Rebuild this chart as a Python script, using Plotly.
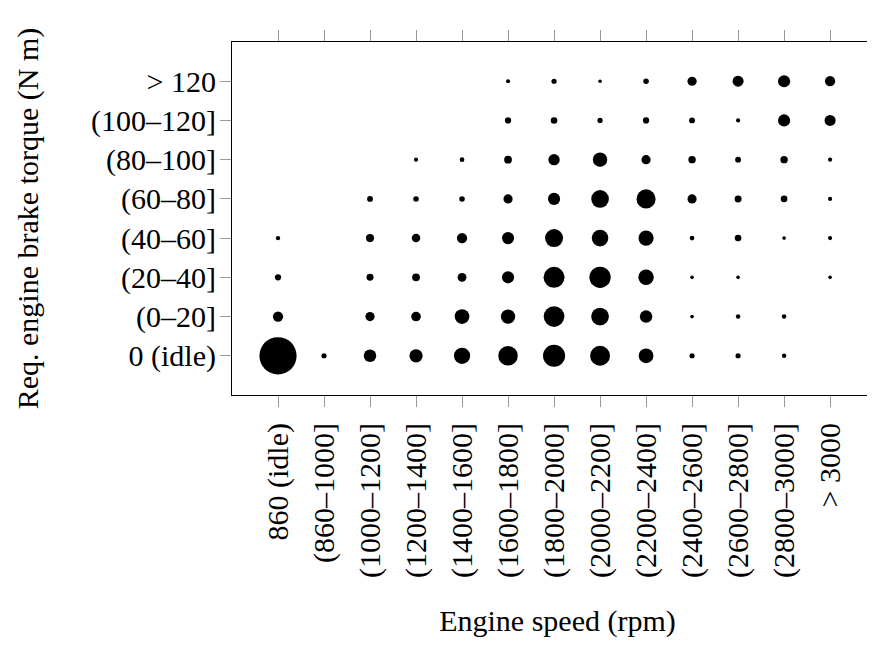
import plotly.graph_objects as go

speed_labels = ["860 (idle)", "(860–1000]", "(1000–1200]", "(1200–1400]", "(1400–1600]",
                "(1600–1800]", "(1800–2000]", "(2000–2200]", "(2200–2400]", "(2400–2600]",
                "(2600–2800]", "(2800–3000]", "> 3000"]
torque_labels = ["0 (idle)", "(0–20]", "(20–40]", "(40–60]", "(60–80]", "(80–100]",
                 "(100–120]", "> 120"]

# relative frequency of operating points (arbitrary units), one list per torque bin
freq_idle   = [1136, 22, 128, 144, 216, 313, 400, 324, 177, 22, 22, 16, 0]
freq_0_20   = [86, 0, 69, 76, 177, 169, 350, 256, 128, 11, 16, 16, 0]
freq_20_40  = [32, 0, 40, 49, 64, 121, 361, 372, 196, 11, 11, 0, 11]
freq_40_60  = [16, 0, 53, 59, 86, 121, 266, 225, 188, 18, 36, 11, 14]
freq_60_80  = [0, 0, 28, 25, 25, 69, 121, 256, 299, 69, 40, 36, 14]
freq_80_100 = [0, 0, 0, 14, 18, 49, 106, 169, 69, 45, 28, 45, 14]
freq_100_120 = [0, 0, 0, 0, 0, 32, 36, 22, 32, 28, 14, 121, 100]
freq_gt_120 = [0, 0, 0, 0, 0, 14, 22, 11, 25, 69, 100, 121, 86]

rows = [freq_idle, freq_0_20, freq_20_40, freq_40_60, freq_60_80,
        freq_80_100, freq_100_120, freq_gt_120]

xs, ys, vs = [], [], []
for ti, row in enumerate(rows):
    for si, v in enumerate(row):
        if v > 0:
            xs.append(speed_labels[si])
            ys.append(torque_labels[ti])
            vs.append(v)

FONT = "Liberation Serif"

fig = go.Figure(go.Scatter(
    x=xs, y=ys, mode="markers",
    marker=dict(size=vs, sizemode="area", sizeref=1.64, color="black",
                line=dict(width=0), opacity=1),
    hoverinfo="x+y",
))

axis_common = dict(
    showgrid=False, zeroline=False, showline=True, linecolor="black", linewidth=1,
    ticks="outside", ticklen=11, tickcolor="#999", tickwidth=1,
    tickfont=dict(family=FONT, size=30, color="black"),
)

fig.update_layout(
    width=875, height=650,
    margin=dict(l=224, r=0, t=34, b=263),
    plot_bgcolor="white", paper_bgcolor="white",
    showlegend=False,
    font=dict(family=FONT, size=30, color="black"),
    xaxis=dict(**axis_common, mirror="allticks", type="category", categoryorder="array",
               categoryarray=speed_labels, range=[-1, 13.15], tickangle=-90,
               ticklabelstandoff=4,
               title=dict(text="Engine speed (rpm)", standoff=33,
                          font=dict(family=FONT, size=30))),
    yaxis=dict(**axis_common, mirror=False, type="category", categoryorder="array",
               categoryarray=torque_labels, range=[-1, 8],
               ticklabelstandoff=-2,
               title=dict(text="Req. engine brake torque (N m)", standoff=43,
                          font=dict(family=FONT, size=30))),
)

fig.write_html("out.html")
